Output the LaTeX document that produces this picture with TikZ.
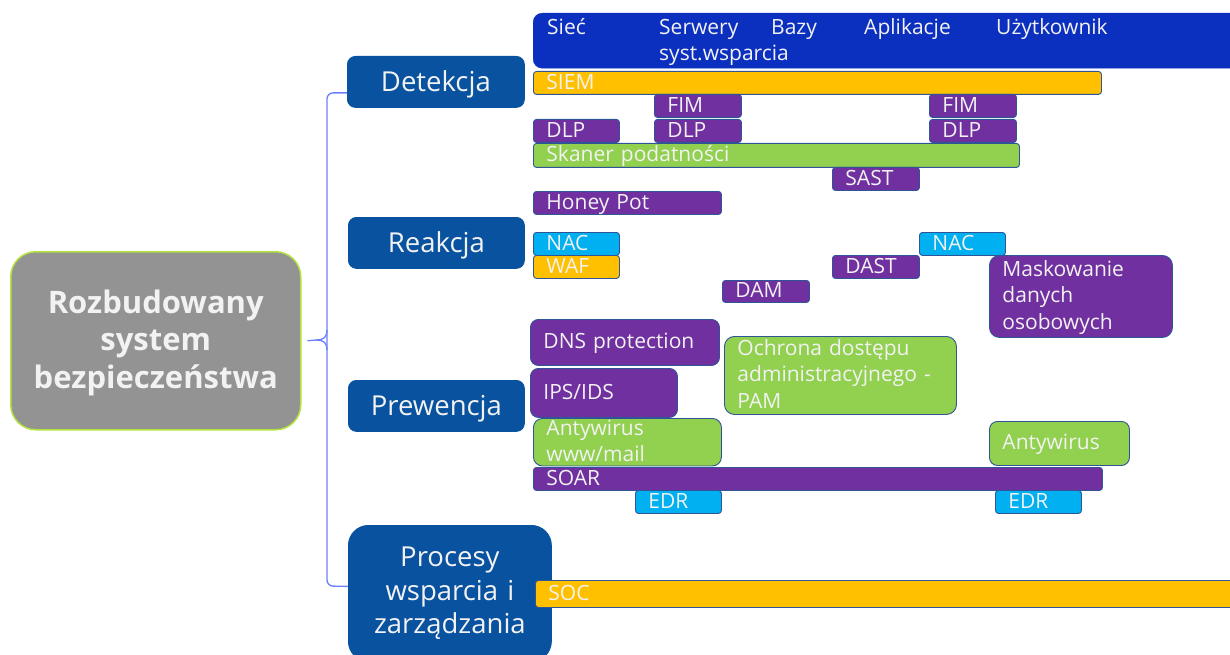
\documentclass[tikz,border=0pt]{standalone}
\usepackage{fontspec}
\setmainfont{Open Sans}
\definecolor{topblue}{HTML}{0B30C0}
\definecolor{boxblue}{HTML}{0852A0}
\definecolor{purp}{HTML}{7030A0}
\definecolor{grn}{HTML}{92D050}
\definecolor{cyn}{HTML}{00B0F0}
\definecolor{gold}{HTML}{FFC000}
\definecolor{greybox}{HTML}{939393}
\definecolor{mainborder}{HTML}{B4E33D}
\definecolor{bord}{HTML}{2F5597}
\definecolor{connblue}{HTML}{6A7EFF}
\definecolor{txt}{HTML}{F2F2F2}
\newcommand\fsmall{\fontsize{21}{26.5}\selectfont}
\newcommand\fbig{\fontsize{27.5}{33.5}\selectfont}
\newcommand\fmain{\fontsize{31}{37.5}\selectfont\bfseries}
\tikzset{
  sb/.style={draw=bord, line width=0.9pt, rounded corners=3pt, anchor=north west,
    inner xsep=13pt, inner ysep=0pt, text=txt, font=\fsmall, align=left,
    text height=17pt, text depth=4pt},
  twol/.style={text depth=30.5pt, rounded corners=9pt},
  threel/.style={text depth=57pt, rounded corners=10pt},
  lbl/.style={anchor=base west, inner sep=0pt, text=txt, font=\fsmall},
  bb/.style={fill=boxblue, draw=boxblue, line width=0.8pt, rounded corners=8pt,
    anchor=north west, text=txt, font=\fbig, align=center, inner sep=0pt,
    text height=20pt, text depth=1pt},
  conn/.style={draw=connblue, line width=1.3pt},
}
\begin{document}
\begin{tikzpicture}[x=1pt,y=-1pt]
\useasboundingbox (0,0) rectangle (1230,655);
\clip (0,0) rectangle (1230,655);

% main node
\node[fill=greybox, draw=mainborder, line width=1.5pt, rounded corners=25pt,
  anchor=north west, minimum width=290pt, minimum height=178pt, inner sep=0pt,
  text width=290pt, text=txt, font=\fmain, align=center, text height=25pt, text depth=80pt]
  (main) at (10,251) {Rozbudowany\\system\\bezpieczeństwa};

% branch nodes
\node[bb, minimum width=177pt, minimum height=51pt] (det) at (347,56) {Detekcja};
\node[bb, minimum width=176pt, minimum height=51pt] (rea) at (348,217) {Reakcja};
\node[bb, minimum width=176pt, minimum height=51pt] (pre) at (348,380) {Prewencja};
\node[bb, minimum width=203pt, minimum height=136pt, rounded corners=20pt,
  text width=203pt, text depth=73pt] (proc) at (348,525) {Procesy\\wsparcia i\\zarządzania};

% connectors
\draw[conn, rounded corners=6pt] ([yshift=-11pt]det.west) -| (327,586) -- ([yshift=7pt]proc.west);
\draw[conn] ([xshift=6pt]main.east) -- (316,340) .. controls (324,340) and (327,337) .. (327,330);
\draw[conn] (316,340) .. controls (324,340) and (327,343) .. (327,350);

% top bar
\node[fill=topblue, draw=topblue, rounded corners=9pt, anchor=north west,
  minimum width=720pt, minimum height=55pt, inner sep=0pt] (top) at (533,13) {};
\node[lbl] (l1) at (547,35) {Sieć};
\node[lbl] (l2) at (659,35) {Serwery};
\node[lbl] (l3) at (771,35) {Bazy};
\node[lbl] (l4) at (864,35) {Aplikacje};
\node[lbl] (l5) at (996,35) {Użytkownik};
\node[lbl] (l6) at (659,61) {syst.wsparcia};

% small boxes
\node[sb, fill=gold, text width=542pt, minimum height=23pt] (siem) at (533,71) {SIEM};
\node[sb, fill=purp, text width=61pt, minimum height=23pt] (fim1) at (654,94) {FIM};
\node[sb, fill=purp, text width=61pt, minimum height=23pt] (fim2) at (929,94) {FIM};
\node[sb, fill=purp, text width=60pt, minimum height=23pt] (dlp1) at (533,119) {DLP};
\node[sb, fill=purp, text width=61pt, minimum height=23pt] (dlp2) at (654,119) {DLP};
\node[sb, fill=purp, text width=61pt, minimum height=23pt] (dlp3) at (929,119) {DLP};
\node[sb, fill=grn, text width=460pt, minimum height=24pt] (skaner) at (533,143) {Skaner podatności};
\node[sb, fill=purp, text width=61pt, minimum height=23pt] (sast) at (832,167) {SAST};
\node[sb, fill=purp, text width=162pt, minimum height=23pt] (honey) at (533,191) {Honey Pot};
\node[sb, fill=cyn, text width=60pt, minimum height=23pt] (nac1) at (533,232) {NAC};
\node[sb, fill=gold, text width=60pt, minimum height=23pt] (waf) at (533,255) {WAF};
\node[sb, fill=cyn, text width=60pt, minimum height=23pt] (nac2) at (919,232) {NAC};
\node[sb, fill=purp, text width=61pt, minimum height=23pt] (dast) at (832,255) {DAST};
\node[sb, fill=purp, text width=61pt, minimum height=22pt] (dam) at (722,280) {DAM};
\node[sb, threel, fill=purp, text width=157pt, minimum height=82pt] (mask) at (989,255) {Maskowanie\\danych\\osobowych};
\node[sb, fill=purp, rounded corners=8pt, text width=163pt, minimum height=46pt] (dns) at (530,319) {DNS protection};
\node[sb, threel, fill=grn, text width=206pt, minimum height=78pt] (pam) at (724,336) {Ochrona dostępu\\administracyjnego -\\PAM};
\node[sb, fill=purp, rounded corners=8pt, text width=121pt, minimum height=49pt] (ips) at (530,368) {IPS/IDS};
\node[sb, twol, fill=grn, text width=162pt, minimum height=47pt] (av1) at (533,418) {Antywirus\\www/mail};
\node[sb, fill=grn, rounded corners=8pt, text width=114pt, minimum height=44pt] (av2) at (989,421) {Antywirus};
\node[sb, fill=purp, text width=543pt, minimum height=23pt] (soar) at (533,467) {SOAR};
\node[sb, fill=cyn, text width=60pt, minimum height=23pt] (edr1) at (635,490) {EDR};
\node[sb, fill=cyn, text width=60pt, minimum height=23pt] (edr2) at (995,490) {EDR};
\node[sb, fill=gold, text width=679pt, minimum height=27pt] (soc) at (535,580) {SOC};
\end{tikzpicture}
\end{document}
